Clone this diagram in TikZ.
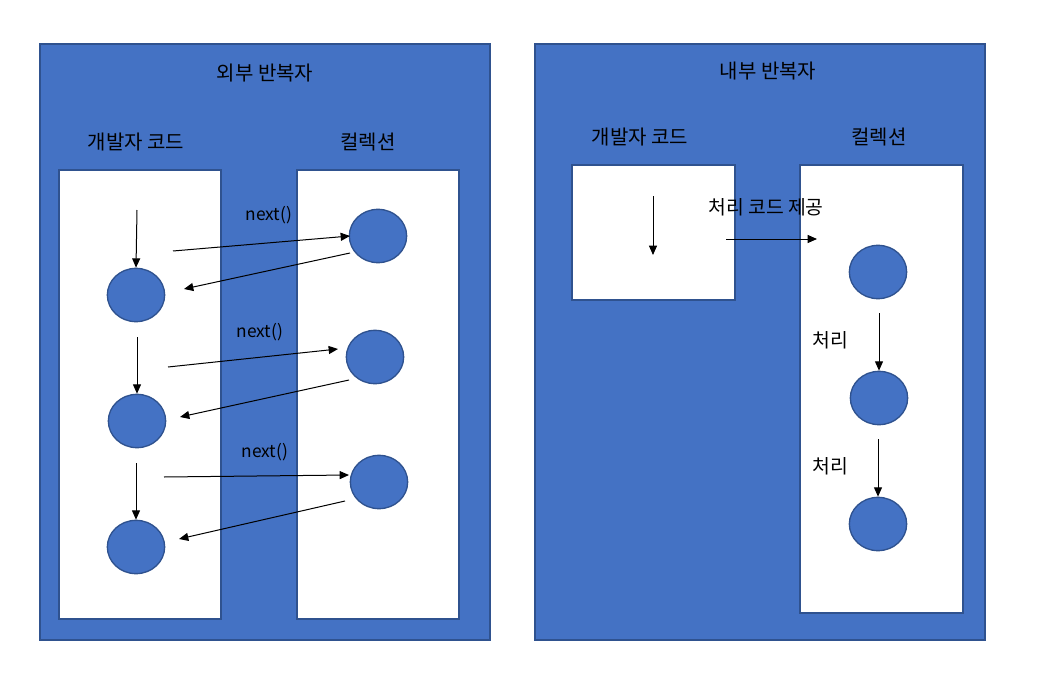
\documentclass[tikz,border=0pt]{standalone}
\usepackage{fontspec}
\newfontfamily\kr{Noto Sans CJK KR}
\usetikzlibrary{arrows.meta,shapes.geometric}
\definecolor{fillblue}{HTML}{4472C4}
\definecolor{edgeblue}{HTML}{2F528F}
\begin{document}
\begin{tikzpicture}[x=0.75pt,y=-0.75pt,
  outerbox/.style={draw=edgeblue,fill=fillblue,line width=1.5pt},
  innerbox/.style={draw=edgeblue,fill=white,line width=1.5pt},
  dot/.style={draw=edgeblue,fill=fillblue,line width=1pt,ellipse,minimum width=43pt,minimum height=40pt,inner sep=0pt},
  lbl/.style={font=\kr\fontsize{15}{17}\selectfont,text=black,inner sep=0pt},
  small/.style={font=\kr\fontsize{14.5}{16}\selectfont,text=black,inner sep=0pt},
  nxt/.style={font=\kr\fontsize{13}{15}\selectfont,text=black,inner sep=0pt},
  arr/.style={-{Triangle[length=7pt,width=6pt]},line width=0.75pt,black}]
\useasboundingbox (0,0) rectangle (1038,688);
\fill[white] (0,0) rectangle (1038,688);
% left panel
\draw[outerbox] (40,44) rectangle (490,640);
\draw[innerbox] (59,170) rectangle (221,619);
\draw[innerbox] (297,170) rectangle (459,619);
\node[lbl] (t1) at (265,73) {외부 반복자};
\node[lbl] (d1) at (136,142) {개발자 코드};
\node[lbl] (c1) at (368,142) {컬렉션};
\node[dot] (a1) at (136,295) {};
\node[dot] (a2) at (137,421) {};
\node[dot] (a3) at (136,547) {};
\node[dot] (b1) at (378,236) {};
\node[dot] (b2) at (375,357) {};
\node[dot] (b3) at (379,482) {};
\coordinate (v1s) at (137,210);
\coordinate (v2s) at (137,337);
\coordinate (v3s) at (136,463);
\draw[arr] (v1s) -- (a1.north);
\draw[arr] (v2s) -- (a2.north);
\draw[arr] (v3s) -- (a3.north);
\coordinate (f1) at (173,251); \coordinate (g1) at (350,236);
\coordinate (h1) at (350,253); \coordinate (k1) at (184,289);
\coordinate (f2) at (168,367); \coordinate (g2) at (338,349);
\coordinate (h2) at (349,380); \coordinate (k2) at (180,417);
\coordinate (f3) at (164,477); \coordinate (g3) at (349,475);
\coordinate (h3) at (345,501); \coordinate (k3) at (179,539);
\draw[arr] (f1) -- (g1);
\draw[arr] (h1) -- (k1);
\draw[arr] (f2) -- (g2);
\draw[arr] (h2) -- (k2);
\draw[arr] (f3) -- (g3);
\draw[arr] (h3) -- (k3);
\node[nxt] (n1) at (269,215) {next()};
\node[nxt] (n2) at (260,332) {next()};
\node[nxt] (n3) at (265,452) {next()};
% right panel
\draw[outerbox] (535,44) rectangle (985,640);
\draw[innerbox] (572,165) rectangle (735,300);
\draw[innerbox] (800,165) rectangle (963,613);
\node[lbl] (t2) at (768,71) {내부 반복자};
\node[lbl] (d2) at (640,137) {개발자 코드};
\node[lbl] (c2) at (879,137) {컬렉션};
\coordinate (w1) at (653,196); \coordinate (w2) at (653,255);
\draw[arr] (w1) -- (w2);
\node[small] (p) at (766,207) {처리 코드 제공};
\coordinate (p1) at (726,239); \coordinate (p2) at (817,239);
\draw[arr] (p1) -- (p2);
\node[dot] (e1) at (878,272) {};
\node[dot] (e2) at (879,398) {};
\node[dot] (e3) at (878,524) {};
\coordinate (u1) at (879,313);
\coordinate (u2) at (878,439);
\draw[arr] (u1) -- (e2.north);
\draw[arr] (u2) -- (e3.north);
\node[small] (q1) at (830,340) {처리};
\node[small] (q2) at (830,466) {처리};
\end{tikzpicture}
\end{document}
